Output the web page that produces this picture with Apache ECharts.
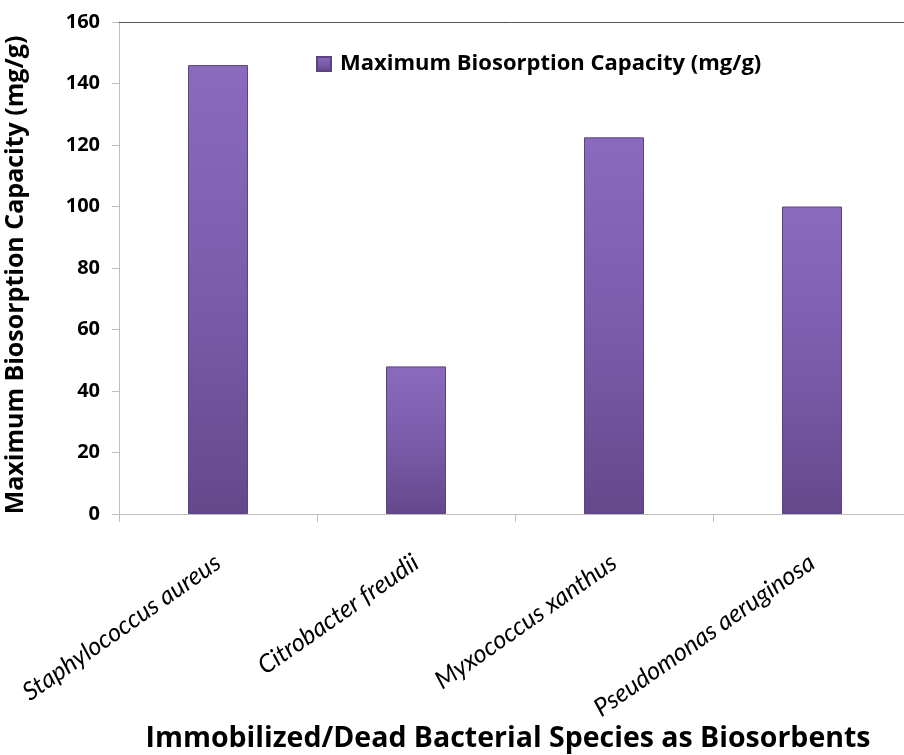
<!DOCTYPE html>
<html>
<head>
<meta charset="utf-8">
<script src="https://cdn.jsdelivr.net/npm/echarts@6/dist/echarts.min.js"></script>
<style>html,body{margin:0;padding:0;background:#fff}#c{width:904px;height:755px}</style>
</head>
<body>
<div id="c"></div>
<script>
var categories = ['Staphylococcus aureus', 'Citrobacter freudii', 'Myxococcus xanthus', 'Pseudomonas aeruginosa'];
var capacity = [146, 48, 122.5, 100];
var seriesName = 'Maximum Biosorption Capacity (mg/g)';
var yTitle = 'Maximum Biosorption Capacity (mg/g)';
var xTitle = 'Immobilized/Dead Bacterial Species as Biosorbents';

var chart = echarts.init(document.getElementById('c'), null, {renderer: 'canvas'});
var barGrad = new echarts.graphic.LinearGradient(0, 0, 0, 1, [
  {offset: 0, color: '#8b6abd'},
  {offset: 0.5, color: '#7b5cab'},
  {offset: 1, color: '#65488b'}
]);
var boldFont = 'Open Sans';
chart.setOption({
  backgroundColor: '#fff',
  animation: false,
  grid: {left: 119, top: 22, width: 792, bottom: 241, containLabel: false, outerBoundsMode: 'none'},
  legend: {
    left: 311, top: 48, itemWidth: 14, itemHeight: 14, icon: 'rect',
    textStyle: {fontFamily: boldFont, fontWeight: 'bold', fontSize: 22, color: '#000', padding: [0, 0, 0, 4]},
    data: [seriesName]
  },
  xAxis: [{
    type: 'category', data: categories,
    axisLine: {lineStyle: {color: '#bfbfbf', width: 1}},
    axisTick: {show: true, length: 8, lineStyle: {color: '#bfbfbf'}},
    axisLabel: {rotate: 35, margin: 46, fontFamily: 'Lato', fontStyle: 'italic', fontSize: 25, color: '#000'},
    name: xTitle, nameLocation: 'middle', nameGap: 225, nameMoveOverlap: false,
    nameTextStyle: {fontFamily: boldFont, fontWeight: 'bold', fontSize: 28.5, color: '#000', verticalAlign: 'middle', padding: [0, 14, 0, 0]}
  }, {
    type: 'category', data: categories, position: 'top',
    axisLine: {lineStyle: {color: '#555', width: 1}},
    axisTick: {show: false}, axisLabel: {show: false}
  }],
  yAxis: {
    type: 'value', min: 0, max: 160, interval: 20,
    axisLine: {show: true, lineStyle: {color: '#bfbfbf'}},
    axisTick: {show: true, length: 7, lineStyle: {color: '#bfbfbf'}},
    splitLine: {show: false},
    axisLabel: {margin: 19, fontFamily: boldFont, fontWeight: 'bold', fontSize: 20, color: '#000'},
    name: yTitle, nameLocation: 'middle', nameGap: 91, nameMoveOverlap: false,
    nameTextStyle: {fontFamily: boldFont, fontWeight: 'bold', fontSize: 25, color: '#000', padding: [0, 14, 0, 0]}
  },
  series: [{
    name: seriesName, type: 'bar', data: capacity, barWidth: 60,
    itemStyle: {color: barGrad, borderColor: '#5a4380', borderWidth: 1}
  }]
});
</script>
</body>
</html>
